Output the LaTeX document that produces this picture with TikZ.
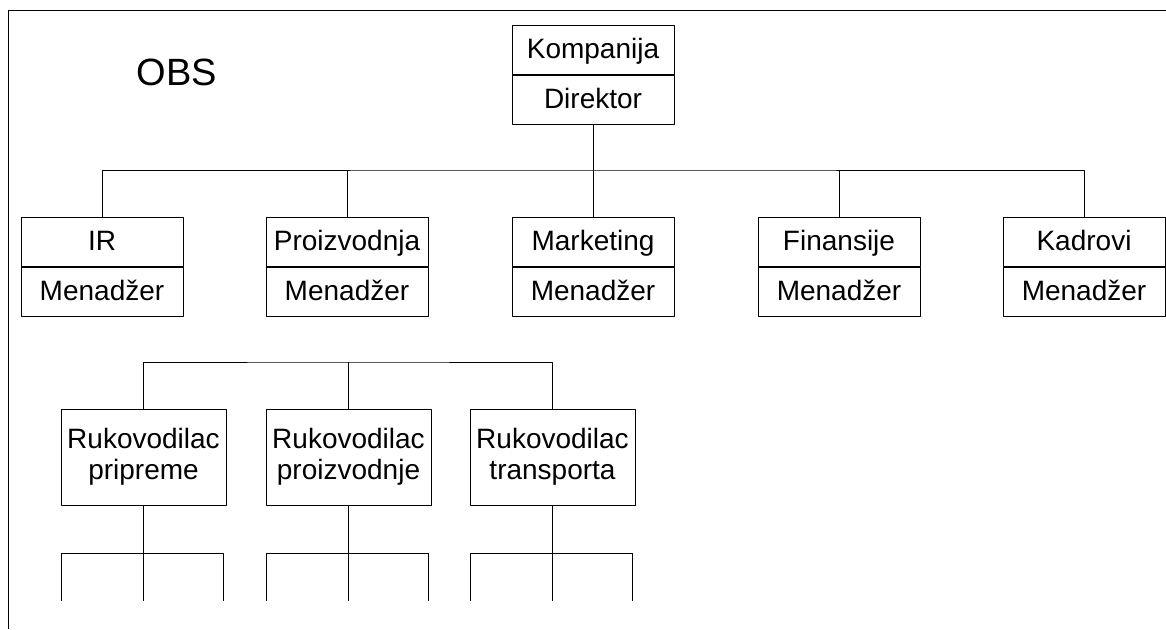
\documentclass[tikz,border=0pt]{standalone}
\usepackage{fontspec}
\setmainfont{Liberation Sans}
\usetikzlibrary{positioning}
\tikzset{fig/.style={x=1pt,y=-1pt,line join=round,line width=1pt},
  cell/.style={draw,minimum width=162pt,minimum height=49pt,inner sep=0pt,text height=19.5pt,text depth=3.5pt,font=\fontsize{28}{31}\selectfont},
  role/.style={draw,minimum width=165pt,minimum height=96pt,inner sep=0pt,align=center,font=\fontsize{28}{31}\selectfont}}

\begin{document}
\begin{tikzpicture}[fig]
  \useasboundingbox (0,0) rectangle (1166,629);
  \draw (1166,10) -- (8,10) -- (8,629);
  \node[font=\fontsize{38}{44}\selectfont] (obs) at (177,72) {OBS};
  % vrh
  \node[cell] (komp) at (593,50) {Kompanija};
  \node[cell,below=0pt of komp] (dir) {Direktor};
  % sektori
  \foreach \n/\x/\t in {ir/102/IR,proiz/347/Proizvodnja,mark/593/Marketing,fin/839/Finansije,kadr/1084/Kadrovi}{
    \node[cell] (\n) at (\x,242) {\t};
    \node[cell,below=0pt of \n] (\n m) {Menadžer};
  }
  \coordinate (bus) at (593,170);
  \draw (dir.south) -- (bus);
  \draw (ir.north) |- (bus) -| (kadr.north);
  \foreach \n in {proiz,mark,fin} \draw (\n.north) -- (\n.north |- bus);
  % rukovodioci
  \node[role] (prip) at (143.5,457) {Rukovodilac\\pripreme};
  \node[role] (prod) at (348.5,457) {Rukovodilac\\proizvodnje};
  \node[role] (trans) at (552.5,457) {Rukovodilac\\transporta};
  \coordinate (rbus) at (348.5,362);
  \draw (prip.north) |- (rbus) -| (trans.north);
  \draw (prod.north) -- (rbus);
  \foreach \n in {prip,prod,trans}{
    \coordinate (\n j) at ([yshift=-48pt]\n.south);
    \coordinate (\n l) at ([xshift=-82pt,yshift=-95pt]\n.south);
    \coordinate (\n c) at ([yshift=-95pt]\n.south);
    \coordinate (\n r) at ([xshift=80pt,yshift=-95pt]\n.south);
    \draw (\n.south) -- (\n c);
    \draw (\n l) |- (\n j) -| (\n r);
  }
\end{tikzpicture}
\end{document}
